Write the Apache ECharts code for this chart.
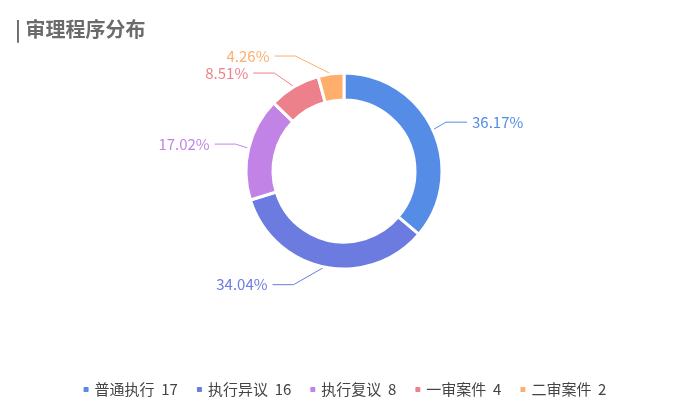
<!DOCTYPE html>
<html>
<head>
<meta charset="utf-8">
<script src="https://cdn.jsdelivr.net/npm/echarts@6/dist/echarts.min.js"></script>
<style>
html, body { margin: 0; padding: 0; background: #fff; }
#pie_1 { width: 688px; height: 410px; }
</style>
</head>
<body>
<div id="pie_1"></div>
<script>
var names = ['普通执行', '执行异议', '执行复议', '一审案件', '二审案件'];
var counts = [17, 16, 8, 4, 2];
var colors = ['#548ce6', '#6b7be0', '#c184e6', '#ed818b', '#ffae6b'];

var chart = document.getElementById("pie_1");
var echart = echarts.init(chart);

var data = [];
for (var i = 0; i < names.length; i++) {
    data.push({value: counts[i], name: names[i]});
}

var cx = 344, cy = 171, outerR = 98, innerR = 71;
var len1 = 18, len2 = 21, gap = 5;

// pull labels out along a circle the way older echarts did
function placeLabel(params) {
    var pts = params.labelLinePoints;
    if (!pts) return {};
    var y = pts[2][1];
    var dir = pts[2][0] >= pts[0][0] ? 1 : -1;
    var R = outerR + len1 + len2;
    var dy = Math.abs(y - cy);
    var dx = dy < outerR + len1 ? Math.sqrt(R * R - dy * dy) : Math.abs(pts[2][0] - cx);
    var labelX = cx + dir * dx;
    var endX = labelX - dir * gap;
    var midX = endX - dir * len2;
    return {
        x: labelX,
        y: y,
        align: dir > 0 ? 'left' : 'right',
        verticalAlign: 'middle',
        labelLinePoints: [pts[0], [midX, y], [endX, y]]
    };
}

var option = {
    color: colors,
    title: {
        text: '| 审理程序分布',
        left: 10,
        top: 14,
        textStyle: {fontSize: 20, color: '#6b6b6b', fontWeight: 'bold', fontFamily: 'Noto Sans CJK SC'}
    },
    legend: {
        bottom: 8,
        left: 'center',
        icon: 'roundRect',
        itemWidth: 7,
        itemHeight: 7,
        itemGap: 17,
        textStyle: {fontSize: 15, color: '#444', fontFamily: 'Noto Sans CJK SC'},
        data: names,
        formatter: function (name) {
            return name + '  ' + counts[names.indexOf(name)];
        }
    },
    series: [
        {
            name: '审理程序',
            type: 'pie',
            radius: [innerR, outerR],
            center: [cx, cy],
            startAngle: 90,
            itemStyle: {borderColor: '#fff', borderWidth: 3},
            label: {
                formatter: '{d}%',
                fontSize: 15,
                color: 'inherit',
                fontFamily: 'Noto Sans CJK SC'
            },
            labelLine: {length: len1, length2: len2, lineStyle: {width: 1}},
            labelLayout: placeLabel,
            data: data
        }
    ]
};

echart.setOption(option);
</script>
</body>
</html>
